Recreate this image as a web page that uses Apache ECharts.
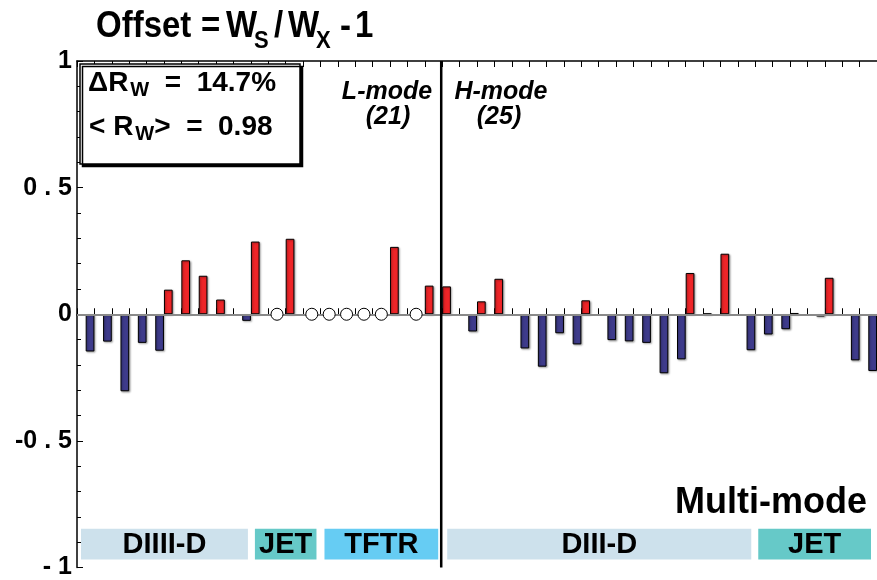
<!DOCTYPE html>
<html>
<head>
<meta charset="utf-8">
<script src="https://cdn.jsdelivr.net/npm/echarts@6/dist/echarts.min.js"></script>
<style>
html,body{margin:0;padding:0;background:#ffffff;}
#chart{width:877px;height:580px;}
</style>
</head>
<body>
<div id="chart"></div>
<script>
// ---------------- DATA ----------------
const categories = ['1','2','3','4','5','6','7','8','9','10','11','12','13','14','15','16','17','18','19','20','21','22','23','24','25','26','27','28','29','30','31','32','33','34','35','36','37','38','39','40','41','42','43','44','45','46'];
// Offset value per discharge (null = no bar; open circle drawn instead)
const offsets = [
  -0.147, -0.108, -0.304, -0.113, -0.144, 0.097, 0.213, 0.152, 0.058, -0.026,
   0.287,  null,   0.298,  null,   null,  null,  null,  null,  0.266, null,
   0.113,  0.110, -0.068,  0.051,  0.140, -0.135, -0.207, -0.075, -0.119, 0.055,
  -0.102, -0.107, -0.113, -0.233, -0.178,  0.163,  0.003,  0.239, -0.142, -0.080,
  -0.059,  0.005, -0.009,  0.144, -0.182, -0.224
];
// discharges shown as open circles at zero offset
const openCircleIdx = [11, 13, 14, 15, 16, 17, 19];
const openCircleValues = [0, 0, 0, 0, 0, 0, 0];
// tokamak groups
const groupNames = ['DIIII-D', 'JET', 'TFTR', 'DIII-D', 'JET'];
const groupStart = [0, 10, 14, 21, 39];
const groupEnd   = [9, 13, 20, 38, 45];
// confinement modes
const modeNames  = ['L-mode', 'H-mode'];
const modeCounts = [21, 25];
const modeSplitIndex = 21;
// y axis ticks
const yTickValues = [-1, -0.5, 0, 0.5, 1];
const yTickLabels = ['- 1', '-0 . 5', '0', '0 . 5', '1'];
// stats
const deltaRw = '14.7%';
const meanRw = '0.98';

// ---------------- STYLE ----------------
const FONT = '"Liberation Sans", Arial, Helvetica, sans-serif';
const groupColors = ['#cde1ec', '#66c9c8', '#66ccf3', '#cde1ec', '#66c9c8'];
const groupInsetL = [4, 4, 4, 5, 3];
const groupInsetR = [3, 4, 4, 4, 6];
const RED = '#ee2528';
const BLUE = '#3e3b8b';

const posData = offsets.map(v => (v !== null && v >= 0) ? v : null);
const negData = offsets.map(v => (v !== null && v < 0) ? v : null);
const circleData = openCircleIdx.map((i, k) => [categories[i], openCircleValues[k]]);

const chart = echarts.init(document.getElementById('chart'), null, {renderer: 'canvas'});

const barItem = (c) => ({
  color: c, borderColor: '#000', borderWidth: 1,
  shadowColor: 'rgba(0,0,0,0.35)', shadowBlur: 2, shadowOffsetX: 1, shadowOffsetY: 1
});

function txt(x, y, text, size, extra, sy) {
  const el = {
    type: 'text', z: 10,
    style: Object.assign({x: x, y: y, text: text, textAlign: 'left', textVerticalAlign: 'middle',
      fontSize: size, fontWeight: 'bold', fontFamily: FONT, fill: '#000'}, extra || {})
  };
  if (sy) { el.scaleY = sy; el.originX = x; el.originY = y; }
  return el;
}

const option = {
  animation: false,
  backgroundColor: '#ffffff',
  grid: {left: 77, right: -5, top: 61, bottom: 11, containLabel: false},
  xAxis: [
    {
      type: 'category', data: categories, position: 'bottom', boundaryGap: true,
      axisLine: {show: true, lineStyle: {color: '#000', width: 1.5}},
      axisTick: {show: true, inside: true, length: 6, interval: 0, lineStyle: {color: '#000', width: 1}},
      axisLabel: {show: false}, splitLine: {show: false}
    },
    {
      type: 'category', data: categories, position: 'top', boundaryGap: true,
      axisLine: {show: true, lineStyle: {color: '#000', width: 1.5}},
      axisTick: {show: true, inside: true, length: 6, interval: 0, lineStyle: {color: '#000', width: 1}},
      axisLabel: {show: false}, splitLine: {show: false}
    }
  ],
  yAxis: {
    type: 'value', min: -1, max: 1, interval: 0.5,
    axisLine: {show: true, lineStyle: {color: '#000', width: 1.5}},
    axisTick: {show: true, inside: true, length: 6, lineStyle: {color: '#000'}},
    minorTick: {show: true, splitNumber: 5, length: 4, lineStyle: {color: '#000'}},
    splitLine: {show: false},
    axisLabel: {
      show: true, margin: 5, color: '#000', fontSize: 25, fontWeight: 'bold', fontFamily: FONT,
      formatter: (v) => {
        const k = yTickValues.findIndex(t => Math.abs(t - v) < 1e-9);
        return k >= 0 ? yTickLabels[k] : '';
      }
    }
  },
  series: [
    {
      name: 'groups', type: 'custom', xAxisIndex: 0, yAxisIndex: 0, z: 1, silent: true,
      encode: {x: [0, 1], y: [2, 3]},
      data: groupNames.map((n, i) => [groupStart[i], groupEnd[i], -0.847, -0.968, i]),
      renderItem: function (params, api) {
        const s = api.value(0), e = api.value(1), gi = api.value(4);
        const band = api.size([1, 0])[0];
        const p0 = api.coord([s, api.value(2)]);
        const p1 = api.coord([e, api.value(3)]);
        const x0 = p0[0] - band / 2 + groupInsetL[gi];
        const x1 = p1[0] + band / 2 - groupInsetR[gi];
        return {
          type: 'rect',
          shape: {x: x0, y: p0[1], width: x1 - x0, height: p1[1] - p0[1]},
          style: {fill: groupColors[gi]},
          textContent: {
            style: {text: groupNames[gi], fill: '#000', fontSize: 29, fontWeight: 'bold', fontFamily: FONT}
          },
          textConfig: {position: 'inside', offset: [0, 1]}
        };
      }
    },
    {
      name: 'positive', type: 'bar', xAxisIndex: 0, yAxisIndex: 0,
      data: posData, barWidth: '50%', barGap: '0%', z: 3,
      itemStyle: barItem(RED),
      markLine: {
        silent: true, symbol: 'none', label: {show: false},
        lineStyle: {color: '#8a8a8a', width: 2, type: 'solid'},
        data: [{yAxis: 0}]
      }
    },
    {
      name: 'negative', type: 'bar', xAxisIndex: 0, yAxisIndex: 0,
      data: negData, barWidth: '50%', barGap: '0%', z: 3,
      itemStyle: barItem(BLUE)
    },
    {
      name: 'excluded', type: 'scatter', xAxisIndex: 0, yAxisIndex: 0, z: 5,
      data: circleData, symbol: 'circle', symbolSize: 12,
      itemStyle: {color: '#fff', borderColor: '#000', borderWidth: 1, opacity: 1}
    },
    {
      name: 'divider', type: 'custom', xAxisIndex: 0, yAxisIndex: 0, z: 6, silent: true,
      encode: {x: 0, y: [1, 2]},
      data: [[modeSplitIndex, 1, -1]],
      renderItem: function (params, api) {
        const band = api.size([1, 0])[0];
        const a = api.coord([api.value(0), api.value(1)]);
        const b = api.coord([api.value(0), api.value(2)]);
        const x = a[0] - band / 2 - 1;
        return {type: 'line', shape: {x1: x, y1: a[1], x2: x, y2: b[1]}, style: {stroke: '#000', lineWidth: 2.5}};
      }
    }
  ],
  graphic: [
    // title pieces: Offset = W_S / W_X - 1
    txt(96, 27, 'Offset', 33, null, 1.12),
    txt(201, 27, '=', 33, null, 1.12),
    txt(226, 27, 'W', 33, null, 1.12),
    txt(254, 41, 'S', 22, null, 1.12),
    txt(274, 27, '/', 33, null, 1.12),
    txt(288, 27, 'W', 33, null, 1.12),
    txt(316, 41, 'X', 22, null, 1.12),
    txt(340, 27, '-', 33, null, 1.12),
    txt(355, 27, '1', 33, null, 1.12),
    // stats box
    {
      type: 'rect', z: 10, shape: {x: 80, y: 64, width: 220, height: 100},
      style: {fill: '#fff', stroke: '#000', lineWidth: 1.5, shadowColor: '#000', shadowOffsetX: 2.5, shadowOffsetY: 2.5, shadowBlur: 0}
    },
    {
      type: 'text', left: 88, top: 69, z: 11,
      style: {
        text: '{a|\u0394R}{s|W}{a|  =  ' + deltaRw + '}',
        rich: {
          a: {fontSize: 28, fontWeight: 'bold', fontFamily: FONT, fill: '#000', height: 33},
          s: {fontSize: 20, fontWeight: 'bold', fontFamily: FONT, fill: '#000', padding: [14, 0, 0, 2], height: 33}
        }
      }
    },
    {
      type: 'text', left: 89, top: 113, z: 11,
      style: {
        text: '{a|< R}{s|W}{a|>  =  ' + meanRw + '}',
        rich: {
          a: {fontSize: 28, fontWeight: 'bold', fontFamily: FONT, fill: '#000', height: 33},
          s: {fontSize: 20, fontWeight: 'bold', fontFamily: FONT, fill: '#000', padding: [14, 0, 0, 2], height: 33}
        }
      }
    },
    // mode labels
    txt(387, 92, modeNames[0], 25, {textAlign: 'center', fontStyle: 'italic'}),
    txt(388, 117, '(' + modeCounts[0] + ')', 25, {textAlign: 'center', fontStyle: 'italic'}),
    txt(501, 92, modeNames[1], 25, {textAlign: 'center', fontStyle: 'italic'}),
    txt(499, 117, '(' + modeCounts[1] + ')', 25, {textAlign: 'center', fontStyle: 'italic'}),
    // Multi-mode
    txt(867, 503, 'Multi-mode', 36, {textAlign: 'right'})
  ]
};
chart.setOption(option);
</script>
</body>
</html>
